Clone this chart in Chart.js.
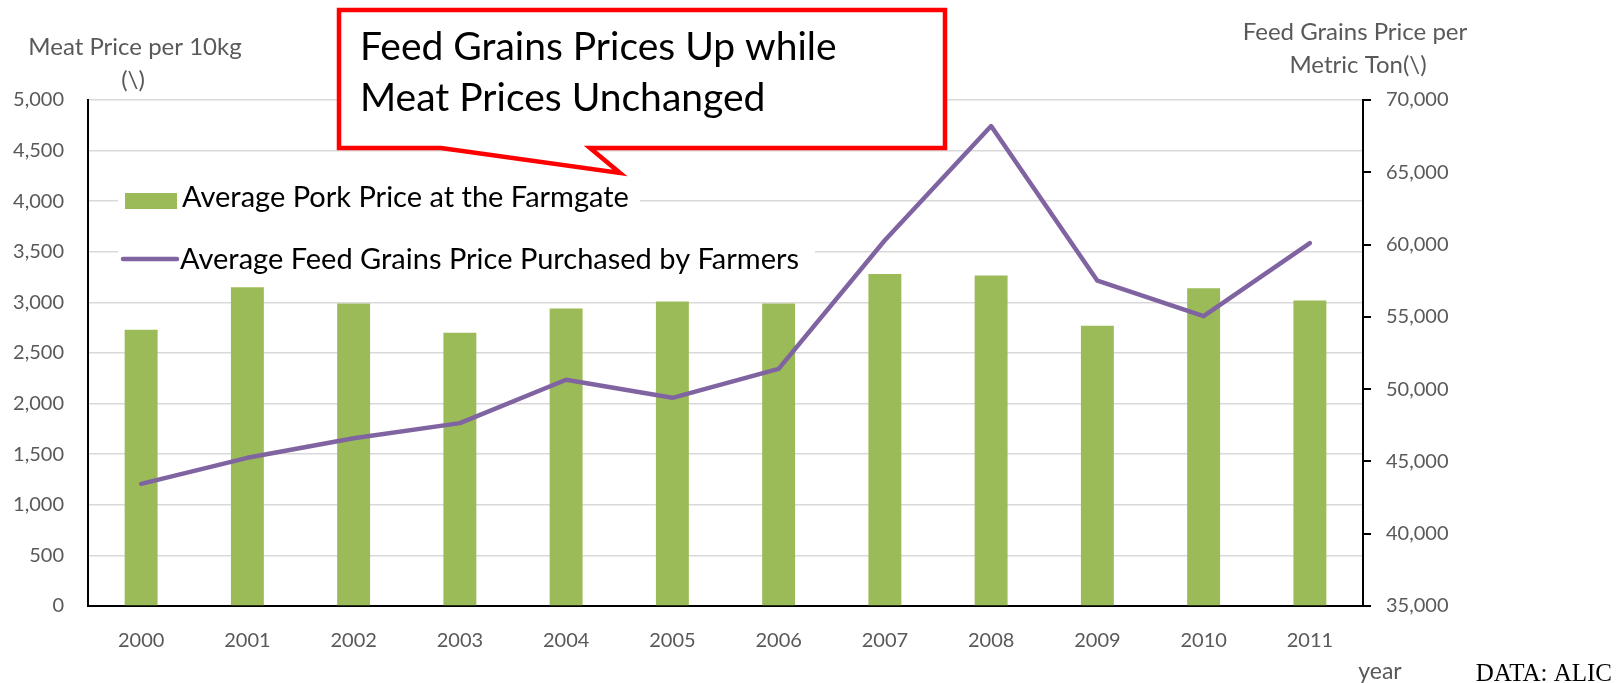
<!DOCTYPE html>
<html>
<head>
<meta charset="utf-8">
<script src="https://cdn.jsdelivr.net/npm/chart.js@4/dist/chart.umd.min.js"></script>
<style>
  html, body { margin: 0; padding: 0; background: #fff; }
  #wrap { width: 1616px; height: 683px; }
</style>
</head>
<body>
<div id="wrap"><canvas id="chart" width="1616" height="683"></canvas></div>
<script>
const years = ["2000", "2001", "2002", "2003", "2004", "2005", "2006", "2007", "2008", "2009", "2010", "2011"];
const porkPrice = [2730, 3150, 2990, 2700, 2940, 3010, 2990, 3280, 3265, 2770, 3140, 3020];
const feedPrice = [43450, 45250, 46600, 47650, 50650, 49400, 51400, 60300, 68200, 57500, 55050, 60100];

const porkLabel = "Average Pork Price at the Farmgate";
const feedLabel = "Average Feed Grains Price Purchased by Farmers";
const leftTitle = ["Meat Price per 10kg", "(\\)"];
const rightTitle = ["Feed Grains Price per", "Metric Ton(\\)"];
const calloutText = ["Feed Grains Prices Up while", "Meat Prices Unchanged"];

const green = "#9BBB59";
const purple = "#8064A2";
const grey = "#595959";
const sans = "Lato, 'Open Sans', sans-serif";

function withCommas(v) {
  return String(v).replace(/\B(?=(\d{3})+(?!\d))/g, ",");
}

// extra drawing: callout, axis titles, in-plot legend, footnotes
const extras = {
  id: "extras",
  afterDraw(chart) {
    const ctx = chart.ctx;
    ctx.save();

    // axis titles
    ctx.fillStyle = grey;
    ctx.font = "24px " + sans;
    ctx.textAlign = "center";
    ctx.textBaseline = "middle";
    ctx.fillText(leftTitle[0], 135, 47);
    ctx.fillText(leftTitle[1], 133, 80);
    ctx.fillText(rightTitle[0], 1355, 32);
    ctx.fillText(rightTitle[1], 1358, 65);

    // legend inside the plot
    ctx.fillStyle = "#fff";
    ctx.fillRect(118, 181, 522, 34);
    ctx.fillRect(118, 242, 697, 34);
    ctx.fillStyle = green;
    ctx.fillRect(125, 193, 52, 16);
    ctx.strokeStyle = purple;
    ctx.lineWidth = 4.5;
    ctx.lineCap = "round";
    ctx.beginPath();
    ctx.moveTo(123, 259);
    ctx.lineTo(177, 259);
    ctx.stroke();
    ctx.fillStyle = "#000";
    ctx.font = "29px " + sans;
    ctx.textAlign = "left";
    ctx.fillText(porkLabel, 182, 198);
    ctx.fillText(feedLabel, 180, 260);

    // callout box
    ctx.beginPath();
    ctx.moveTo(339, 10);
    ctx.lineTo(945, 10);
    ctx.lineTo(945, 148);
    ctx.lineTo(590, 148);
    ctx.lineTo(620, 173);
    ctx.lineTo(441, 148);
    ctx.lineTo(339, 148);
    ctx.closePath();
    ctx.fillStyle = "#fff";
    ctx.fill();
    ctx.strokeStyle = "#ff0000";
    ctx.lineWidth = 4.5;
    ctx.lineJoin = "miter";
    ctx.lineCap = "butt";
    ctx.stroke();
    ctx.fillStyle = "#000";
    ctx.font = "39px " + sans;
    ctx.fillText(calloutText[0], 360, 47);
    ctx.fillText(calloutText[1], 360, 98);

    // footnotes
    ctx.fillStyle = grey;
    ctx.font = "23px " + sans;
    ctx.textAlign = "center";
    ctx.textBaseline = "alphabetic";
    ctx.fillText("year", 1380, 679);
    ctx.fillStyle = "#000";
    ctx.font = "25px 'Liberation Serif', 'Times New Roman', serif";
    ctx.textAlign = "right";
    ctx.fillText("DATA: ALIC", 1612, 681);

    ctx.restore();
  }
};

new Chart(document.getElementById("chart"), {
  type: "bar",
  data: {
    labels: years,
    datasets: [
      {
        type: "line",
        label: feedLabel,
        data: feedPrice,
        yAxisID: "y1",
        borderColor: purple,
        borderWidth: 4.5,
        borderCapStyle: "round",
        borderJoinStyle: "round",
        pointRadius: 0,
        tension: 0,
        order: 1,
      },
      {
        type: "bar",
        label: porkLabel,
        data: porkPrice,
        yAxisID: "y",
        backgroundColor: green,
        categoryPercentage: 1,
        barPercentage: 0.31,
        order: 2,
      },
    ],
  },
  options: {
    responsive: false,
    animation: false,
    layout: { padding: { top: 100, left: 0, right: 0, bottom: 0 } },
    plugins: {
      legend: { display: false },
      tooltip: { enabled: false },
    },
    scales: {
      x: {
        grid: { drawOnChartArea: false, drawTicks: false },
        border: { color: "#000", width: 2 },
        ticks: { color: grey, font: { family: sans, size: 20 }, padding: 23 },
        afterFit(scale) { scale.height = 77; },
      },
      y: {
        position: "left",
        min: 0,
        max: 5000,
        ticks: {
          stepSize: 500,
          color: grey,
          font: { family: sans, size: 20 },
          padding: 24,
          callback: (v) => withCommas(v),
        },
        grid: { color: "#d9d9d9", lineWidth: 1.5, drawTicks: false },
        border: { color: "#000", width: 2 },
        afterFit(scale) { scale.width = 88; },
      },
      y1: {
        position: "right",
        min: 35000,
        max: 70000,
        ticks: {
          stepSize: 5000,
          color: grey,
          font: { family: sans, size: 20 },
          padding: 15,
          callback: (v) => withCommas(v),
        },
        grid: { drawOnChartArea: false, drawTicks: true, tickLength: 8, color: "#000", lineWidth: 2 },
        border: { color: "#000", width: 2 },
        afterFit(scale) { scale.width = 253; },
      },
    },
  },
  plugins: [extras],
});
</script>
</body>
</html>
